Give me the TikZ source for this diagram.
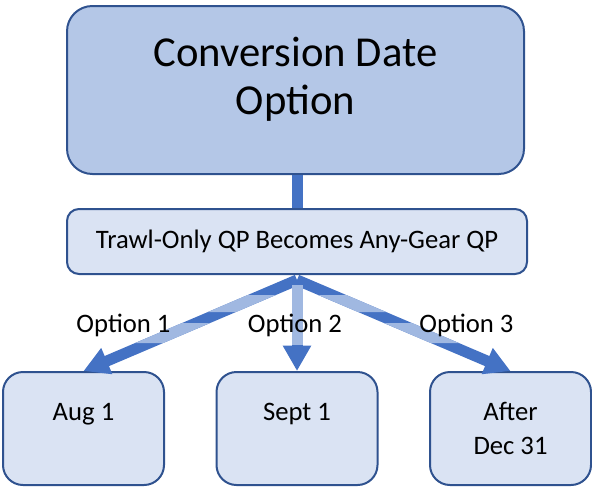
\documentclass[tikz,border=0pt]{standalone}
\usepackage{fontspec}
\setmainfont{Carlito}
\usetikzlibrary{arrows.meta,calc}

\definecolor{titlefill}{RGB}{180,199,231}
\definecolor{boxfill}{RGB}{218,227,243}
\definecolor{boxline}{RGB}{47,82,143}
\definecolor{arrowdark}{RGB}{68,114,196}
\definecolor{arrowlight}{RGB}{160,184,225}

\tikzset{every picture/.style={line width=0.75pt}}
\tikzset{
  titlebox/.style={draw=boxline, line width=1.5pt, fill=titlefill, rounded corners=19pt,
                   minimum width=342.75pt, minimum height=126pt, inner sep=0pt},
  titletext/.style={align=center, inner sep=0pt, font=\fontsize{32}{36}\selectfont},
  quotabox/.style={draw=boxline, line width=1.5pt, fill=boxfill, rounded corners=9pt,
                   minimum width=345pt, minimum height=48.75pt, font=\fontsize{20}{24}\selectfont},
  datebox/.style={draw=boxline, line width=1.5pt, fill=boxfill, rounded corners=15pt,
                  minimum width=120.75pt, minimum height=84.75pt, align=center,
                  font=\fontsize{20}{25}\selectfont},
  stem/.style={draw=arrowdark, line width=8.25pt},
  optarrow/.style={draw=arrowdark, line width=8.25pt, -{Triangle[length=19pt, width=20pt]}},
  optlight/.style={draw=arrowlight, line width=8.25pt},
  optlabel/.style={inner sep=0pt, font=\fontsize{20}{24}\selectfont}
}

\begin{document}
\begin{tikzpicture}[x=0.75pt,y=0.75pt,yscale=-1,xscale=1]
    \useasboundingbox (0,0) rectangle (592,489);

    %Shape: Rounded Rectangle title
    \node [titlebox] (title) at (295.5, 90) {};
    %Text: title
    \node [titletext] (titletext) at (295.5, 79) {Conversion Date\\Option};

    %Shape: Rounded Rectangle quota
    \node [quotabox] (quota) at (297, 241.5) {Trawl-Only QP Becomes Any-Gear QP};

    %Connector: title to quota
    \draw [stem] (title.south -| quota.north) -- (quota.north);

    %Coordinate: where the option arrows start
    \coordinate (apex) at (297, 280);

    %Shape: Rounded Rectangle dates
    \node [datebox] (aug)  at ( 83.5, 428.5) {Aug 1\\\mbox{}};
    \node [datebox] (sept) at (297.0, 428.5) {Sept 1\\\mbox{}};
    \node [datebox] (dec)  at (510.5, 428.5) {After\\Dec 31};

    %Arrows: options
    \draw [optarrow] (apex) -- (aug.north);
    \draw [optarrow] (apex) -- (sept.north);
    \draw [optarrow] (apex) -- (dec.north);

    %Light parts of the arrows (horizontal bands)
    \begin{scope}
      \clip (0, 295) rectangle (592, 312) (0, 323) rectangle (592, 343);
      \draw [optlight] (apex) -- (aug.north);
      \draw [optlight] (apex) -- (dec.north);
    \end{scope}
    \begin{scope}
      \clip (0, 285) rectangle (592, 344);
      \draw [optlight] (apex) -- (sept.north);
    \end{scope}

    %Text: option labels
    \node [optlabel] (opt1) at (123.5, 325) {Option 1};
    \node [optlabel] (opt2) at (295.0, 325) {Option 2};
    \node [optlabel] (opt3) at (466.5, 325) {Option 3};
\end{tikzpicture}
\end{document}
